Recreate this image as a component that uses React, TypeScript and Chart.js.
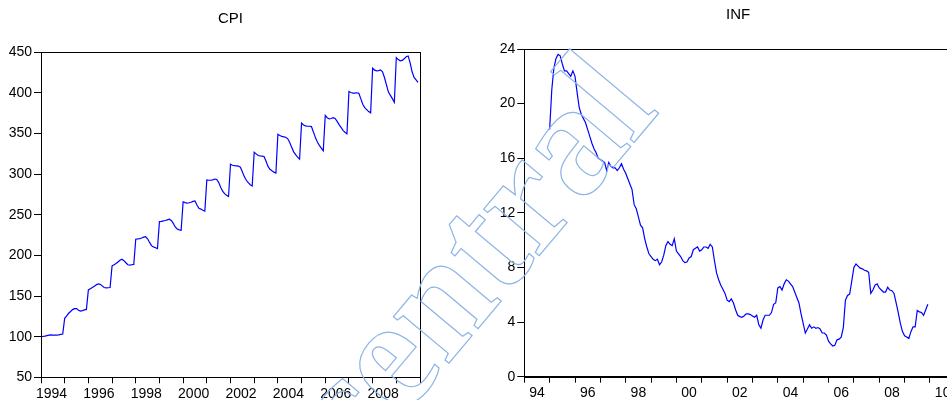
import React, { useEffect, useRef } from 'react';
import { Chart, registerables } from 'chart.js';

Chart.register(...registerables);

// ---------- Data ----------
const cpiStartYear = 1994;
const cpiValues = [
  100, 100.3, 100.7, 101.3, 101.8, 102.2, 102, 101.8, 101.9, 102.3, 102.8, 103.3,
  122.6, 125.5, 128.8, 131, 133.3, 134.5, 134.5, 132.5, 131.5, 132, 132.9, 133.5,
  157.5, 159, 160.5, 162, 163.8, 164.9, 164.5, 162.5, 160.5, 160, 160.2, 160.5,
  187.1, 188.5, 190, 192, 194, 195.3, 193.5, 191, 188.5, 188, 188.5, 188.9,
  220, 220.3, 220.7, 221.5, 222.5, 223, 220.5, 216, 212, 210.5, 209.5, 208.5,
  241.6, 242, 242.6, 243, 243.8, 244.5, 243, 239.5, 235, 232.5, 231.5, 231,
  266, 265, 264.5, 264.8, 265.5, 266.5, 267, 262, 258, 257, 255.5, 254.5,
  293, 292.5, 292.5, 293, 294, 293.5, 290, 284, 279, 276, 274, 272.5,
  312.3, 311, 310.5, 310.3, 310, 308.5, 303, 297, 292.5, 289.5, 287, 285.5,
  327, 325, 323, 322.5, 322.2, 321.8, 316, 309.5, 306, 304.2, 302.5, 301.3,
  349, 347.5, 346.5, 346, 345.5, 343.5, 339, 333, 327.5, 324, 321, 318.5,
  362.8, 360.5, 359.5, 359, 359, 358.5, 352, 345, 339.5, 335.5, 332, 328.7,
  372.2, 369.5, 368, 368.5, 369.5, 368.5, 365, 361, 357.5, 354, 351.5, 349.6,
  401.7, 400.5, 399.8, 399.8, 400.2, 399.5, 393, 386, 382, 379.5, 377, 375.5,
  430.4, 428, 427.1, 427.5, 428.3, 426, 419, 410, 401, 397, 393, 388.5,
  443.5, 441, 439.5, 440, 442, 444.5, 445.5, 437, 426, 419, 416, 413,
];
const cpiYearLabels = ['1994', '1996', '1998', '2000', '2002', '2004', '2006', '2008'];
const cpiAxis = { min: 1994, max: 2010, yMin: 50, yMax: 450, yStep: 50 };

const infStartYear = 1995;
const infValues = [
  18.1, 21.0, 22.6, 23.3, 23.6, 23.5, 22.9, 22.4, 22.4, 22.2, 22.0, 22.4,
  22.0, 20.8, 19.7, 19.2, 18.9, 18.6, 18.1, 17.6, 17.1, 16.7, 16.4, 16.0,
  15.9, 15.8, 15.7, 15.1, 15.7, 15.4, 15.3, 15.3, 15.1, 15.3, 15.6, 15.2,
  14.9, 14.5, 14.1, 13.7, 12.6, 12.3, 11.7, 11.1, 10.9, 10.1, 9.5, 9.0,
  8.8, 8.6, 8.5, 8.6, 8.2, 8.4, 8.9, 9.6, 9.9, 9.7, 9.6, 10.1,
  9.2, 9.0, 8.8, 8.5, 8.35, 8.4, 8.7, 8.8, 9.3, 9.4, 9.5, 9.2,
  9.3, 9.5, 9.5, 9.4, 9.7, 9.5, 8.5, 7.6, 7.1, 6.7, 6.4, 6.1,
  5.6, 5.5, 5.7, 5.4, 4.9, 4.5, 4.4, 4.35, 4.45, 4.6, 4.6, 4.55,
  4.45, 4.35, 4.5, 3.8, 3.55, 4.15, 4.5, 4.5, 4.5, 4.7, 5.3, 5.4,
  6.5, 6.6, 6.35, 6.8, 7.1, 7.0, 6.8, 6.6, 6.2, 5.8, 5.4, 4.6,
  3.9, 3.2, 3.5, 3.8, 3.55, 3.65, 3.55, 3.6, 3.5, 3.2, 3.2, 3.05,
  2.6, 2.4, 2.25, 2.3, 2.7, 2.75, 2.9, 3.6, 5.6, 5.95, 6.05, 7.0,
  8.0, 8.25, 8.1, 7.95, 7.9, 7.8, 7.75, 7.65, 6.1, 6.35, 6.7, 6.8,
  6.5, 6.35, 6.2, 6.2, 6.55, 6.35, 6.3, 6.1, 5.4, 4.7, 3.9, 3.3,
  3.0, 2.9, 2.8, 3.3, 3.65, 3.65, 4.85, 4.75, 4.7, 4.5, 4.9, 5.3,
];
const infYearLabels = ['94', '96', '98', '00', '02', '04', '06', '08', '10'];
const infAxis = { min: 1994, max: 2010.87, yMin: 0, yMax: 24, yStep: 4 };

const watermarkText = 'central';

// ---------- Helpers ----------
const FONT = "'Liberation Sans', Arial, sans-serif";

const framePlugin = {
  id: 'frame',
  afterDraw(chart: any) {
    const { ctx, chartArea } = chart;
    ctx.save();
    ctx.strokeStyle = '#000';
    ctx.lineWidth = 1;
    ctx.strokeRect(
      Math.round(chartArea.left) + 0.5,
      Math.round(chartArea.top) + 0.5,
      Math.round(chartArea.right - chartArea.left),
      Math.round(chartArea.bottom - chartArea.top)
    );
    ctx.restore();
  },
};

function toSeries(values: number[], startYear: number) {
  return values.map((v, i) => ({ x: startYear + i / 12, y: v }));
}

type PanelCfg = {
  title: string;
  values: number[];
  startYear: number;
  labels: string[];
  axis: { min: number; max: number; yMin: number; yMax: number; yStep: number };
  yAxisWidth: number;
  xAxisHeight: number;
  titlePadTop: number;
  titlePadBottom: number;
  padRight: number;
  labelOffset: number;
  fontSize: number;
};

function buildConfig(p: PanelCfg): any {
  return {
    type: 'line',
    data: {
      datasets: [
        {
          data: toSeries(p.values, p.startYear),
          borderColor: '#0000ff',
          borderWidth: 1.2,
          pointRadius: 0,
          tension: 0,
          fill: false,
        },
      ],
    },
    plugins: [framePlugin],
    options: {
      responsive: false,
      animation: false,
      devicePixelRatio: 1,
      layout: { padding: { left: 0, right: p.padRight, top: 0, bottom: 0 } },
      plugins: {
        legend: { display: false },
        tooltip: { enabled: false },
        title: {
          display: true,
          text: p.title,
          fullSize: false,
          color: '#000',
          font: { family: FONT, size: 15, weight: 'normal', lineHeight: 1.2 },
          padding: { top: p.titlePadTop, bottom: p.titlePadBottom },
        },
      },
      scales: {
        x: {
          type: 'linear',
          min: p.axis.min,
          max: p.axis.max,
          afterFit: (s: any) => {
            s.height = p.xAxisHeight;
          },
          grid: {
            drawOnChartArea: false,
            drawTicks: true,
            tickLength: 6,
            tickColor: '#000',
            tickWidth: 1,
          },
          border: { display: true, color: '#000', width: 1 },
          ticks: {
            stepSize: 1,
            autoSkip: false,
            includeBounds: false,
            maxRotation: 0,
            minRotation: 0,
            padding: 2,
            labelOffset: p.labelOffset,
            color: '#000',
            font: { family: FONT, size: p.fontSize },
            callback: (v: number) => {
              if (!Number.isInteger(v)) return '';
              const d = v - p.axis.min;
              if (d % 2 !== 0) return '';
              return p.labels[d / 2] ?? '';
            },
          },
        },
        y: {
          type: 'linear',
          min: p.axis.yMin,
          max: p.axis.yMax,
          afterFit: (s: any) => {
            s.width = p.yAxisWidth;
          },
          grid: {
            drawOnChartArea: false,
            drawTicks: true,
            tickLength: 7,
            tickColor: '#000',
            tickWidth: 1,
          },
          border: { display: true, color: '#000', width: 1 },
          ticks: {
            stepSize: p.axis.yStep,
            padding: 2,
            color: '#000',
            font: { family: FONT, size: p.fontSize },
          },
        },
      },
    },
  };
}

function Panel({ cfg, left, width }: { cfg: PanelCfg; left: number; width: number }) {
  const ref = useRef<HTMLCanvasElement | null>(null);
  useEffect(() => {
    if (!ref.current) return;
    const chart = new Chart(ref.current, buildConfig(cfg));
    return () => chart.destroy();
  }, [cfg]);
  return (
    <canvas
      ref={ref}
      width={width}
      height={400}
      style={{ position: 'absolute', left, top: 0, width, height: 400 }}
    />
  );
}

const cpiPanel: PanelCfg = {
  title: 'CPI',
  values: cpiValues,
  startYear: cpiStartYear,
  labels: cpiYearLabels,
  axis: cpiAxis,
  yAxisWidth: 41,
  xAxisHeight: 22.7,
  titlePadTop: 10,
  titlePadBottom: 24.3,
  padRight: 50,
  labelOffset: 10.5,
  fontSize: 14,
};

const infPanel: PanelCfg = {
  title: 'INF',
  values: infValues,
  startYear: infStartYear,
  labels: infYearLabels,
  axis: infAxis,
  yAxisWidth: 54.3,
  xAxisHeight: 23.3,
  titlePadTop: 5.5,
  titlePadBottom: 25.5,
  padRight: 8,
  labelOffset: 12.7,
  fontSize: 14,
};

export default function App() {
  return (
    <div
      style={{
        position: 'fixed',
        left: 0,
        top: 0,
        width: 947,
        height: 400,
        overflow: 'hidden',
        background: '#fff',
      }}
    >
      <Panel cfg={cpiPanel} left={0} width={470} />
      <Panel cfg={infPanel} left={470} width={490} />
      <svg
        width={947}
        height={400}
        style={{ position: 'absolute', left: 0, top: 0, pointerEvents: 'none' }}
      >
        <text
          transform="translate(356 474) rotate(-50)"
          fontFamily="'Liberation Serif', serif"
          fontWeight="bold"
          fontSize={158}
          fill="none"
          stroke="#8cb4e6"
          strokeWidth={1.2}
        >
          {watermarkText}
        </text>
      </svg>
    </div>
  );
}
